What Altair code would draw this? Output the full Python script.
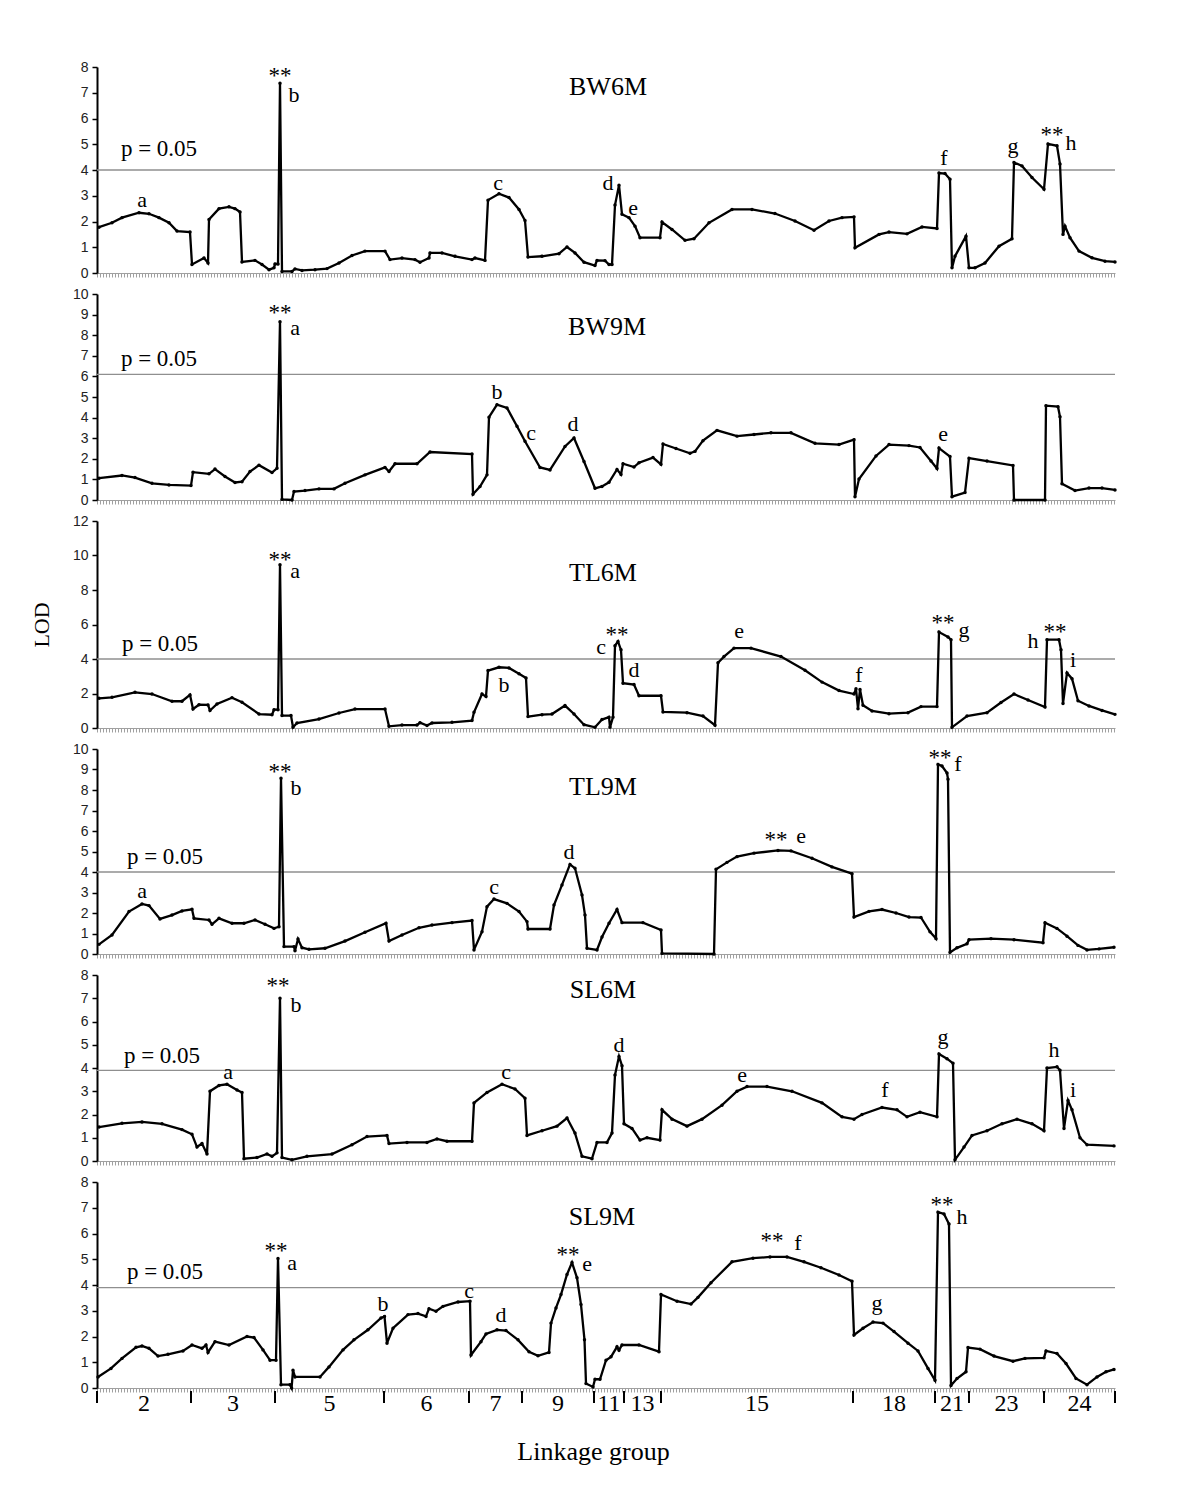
import altair as alt
import pandas as pd

# ---------------- data ----------------
GROUP_BOUNDS = [0, 94, 178, 287, 372, 425, 497, 527, 564, 756, 838, 872, 947, 1018]
GROUP_NAMES = ["2", "3", "5", "6", "7", "9", "11", "13", "15", "18", "21", "23", "24"]

BW6M_POS = [2, 15, 25, 42, 52, 62, 72, 80, 93, 95, 107, 111, 112, 122, 132, 138, 143, 145, 158, 165, 172, 177, 178, 181, 183, 185, 195, 198, 205, 218, 230, 242, 255, 268, 288, 293, 305, 318, 323, 332, 333, 345, 358, 375, 378, 388, 391, 402, 412, 422, 428, 431, 445, 462, 470, 478, 487, 498, 500, 508, 512, 515, 518, 522, 525, 532, 538, 543, 563, 565, 575, 588, 597, 612, 635, 655, 678, 698, 717, 732, 745, 757, 758, 782, 792, 810, 825, 840, 842, 848, 853, 855, 858, 869, 872, 878, 888, 902, 915, 917, 925, 935, 947, 951, 960, 963, 966, 968, 973, 982, 995, 1008, 1018]
BW6M_LOD = [1.78, 1.95, 2.15, 2.34, 2.3, 2.15, 1.95, 1.63, 1.59, 0.33, 0.58, 0.39, 2.08, 2.5, 2.57, 2.5, 2.37, 0.43, 0.49, 0.33, 0.13, 0.2, 0.35, 0.35, 7.37, 0.06, 0.06, 0.16, 0.1, 0.13, 0.17, 0.39, 0.68, 0.85, 0.85, 0.52, 0.58, 0.52, 0.42, 0.58, 0.78, 0.78, 0.65, 0.52, 0.58, 0.49, 2.83, 3.08, 2.93, 2.47, 2.04, 0.62, 0.65, 0.75, 1.01, 0.78, 0.42, 0.29, 0.49, 0.48, 0.33, 0.33, 2.64, 3.41, 2.28, 2.15, 1.82, 1.37, 1.37, 1.98, 1.69, 1.27, 1.33, 1.95, 2.47, 2.47, 2.31, 2.02, 1.66, 2.02, 2.15, 2.18, 0.98, 1.5, 1.59, 1.52, 1.79, 1.73, 3.88, 3.86, 3.64, 0.2, 0.65, 1.43, 0.2, 0.2, 0.39, 1.04, 1.33, 4.29, 4.16, 3.71, 3.25, 5.01, 4.94, 4.23, 1.5, 1.82, 1.37, 0.85, 0.59, 0.46, 0.43]

BW9M_POS = [2, 25, 38, 55, 72, 94, 96, 112, 118, 128, 138, 145, 153, 162, 175, 180, 183, 185, 195, 197, 208, 222, 237, 248, 268, 288, 292, 298, 320, 333, 375, 376, 383, 390, 392, 400, 410, 420, 428, 443, 453, 468, 477, 487, 498, 505, 512, 520, 524, 526, 537, 542, 556, 564, 566, 579, 593, 598, 606, 620, 640, 657, 674, 694, 718, 742, 757, 758, 762, 779, 792, 812, 823, 834, 840, 842, 853, 855, 868, 872, 890, 916, 917, 948, 949, 961, 963, 965, 978, 992, 1005, 1018]
BW9M_LOD = [1.06, 1.19, 1.09, 0.81, 0.73, 0.7, 1.35, 1.27, 1.5, 1.14, 0.85, 0.89, 1.38, 1.69, 1.33, 1.54, 8.65, 0.03, 0.0, 0.41, 0.46, 0.54, 0.54, 0.81, 1.22, 1.58, 1.38, 1.76, 1.76, 2.33, 2.23, 0.28, 0.65, 1.22, 4.02, 4.63, 4.47, 3.58, 2.85, 1.58, 1.46, 2.6, 3.01, 1.87, 0.57, 0.66, 0.86, 1.48, 1.24, 1.76, 1.6, 1.81, 2.06, 1.73, 2.72, 2.5, 2.27, 2.36, 2.88, 3.38, 3.1, 3.18, 3.26, 3.26, 2.75, 2.69, 2.93, 0.16, 1.02, 2.14, 2.69, 2.64, 2.55, 1.89, 1.53, 2.52, 2.11, 0.16, 0.36, 2.03, 1.89, 1.68, 0.0, 0.0, 4.58, 4.53, 4.04, 0.79, 0.46, 0.58, 0.58, 0.49]

TL6M_POS = [2, 15, 38, 55, 75, 85, 93, 96, 102, 111, 113, 120, 135, 145, 162, 175, 177, 181, 183, 185, 194, 196, 200, 222, 242, 258, 288, 292, 305, 320, 323, 330, 335, 355, 375, 377, 385, 389, 391, 402, 412, 422, 429, 431, 445, 455, 468, 477, 487, 498, 505, 512, 513, 516, 518, 521, 524, 526, 537, 542, 564, 566, 590, 606, 618, 621, 627, 637, 654, 684, 708, 725, 742, 757, 759, 761, 763, 766, 775, 792, 811, 824, 840, 842, 851, 854, 855, 870, 890, 904, 917, 931, 948, 950, 962, 964, 966, 970, 975, 981, 992, 1005, 1018]
TL6M_LOD = [1.72, 1.78, 2.07, 1.97, 1.55, 1.55, 1.92, 1.1, 1.35, 1.34, 1.01, 1.39, 1.76, 1.49, 0.81, 0.77, 1.06, 1.06, 9.46, 0.72, 0.72, 0.04, 0.29, 0.52, 0.87, 1.1, 1.1, 0.1, 0.17, 0.17, 0.31, 0.14, 0.29, 0.33, 0.43, 0.91, 1.97, 1.82, 3.33, 3.52, 3.48, 3.14, 2.9, 0.66, 0.77, 0.81, 1.3, 0.81, 0.19, 0.04, 0.49, 0.63, 0.04, 0.63, 4.77, 5.02, 4.53, 2.6, 2.52, 1.87, 1.87, 0.93, 0.89, 0.69, 0.16, 3.78, 4.14, 4.63, 4.63, 4.14, 3.35, 2.66, 2.17, 1.97, 2.27, 1.12, 2.23, 1.32, 0.99, 0.83, 0.89, 1.24, 1.24, 5.56, 5.28, 5.12, 0.04, 0.69, 0.89, 1.48, 1.97, 1.62, 1.22, 5.12, 5.12, 4.53, 1.42, 3.19, 2.86, 1.58, 1.28, 1.02, 0.79]

TL9M_POS = [2, 15, 32, 45, 52, 63, 75, 85, 95, 97, 112, 115, 122, 135, 147, 158, 168, 177, 182, 184, 187, 197, 198, 201, 205, 212, 228, 248, 268, 289, 292, 305, 322, 335, 355, 375, 377, 385, 390, 397, 410, 422, 430, 431, 453, 457, 465, 473, 478, 485, 488, 490, 500, 505, 512, 520, 525, 546, 564, 565, 617, 619, 630, 640, 657, 681, 694, 715, 735, 755, 757, 772, 785, 799, 812, 824, 833, 839, 841, 845, 850, 851, 853, 860, 870, 872, 894, 917, 946, 948, 960, 970, 981, 990, 1002, 1017]
TL9M_LOD = [0.47, 0.93, 2.07, 2.44, 2.36, 1.71, 1.9, 2.1, 2.18, 1.74, 1.66, 1.45, 1.74, 1.5, 1.5, 1.66, 1.45, 1.25, 1.33, 8.57, 0.36, 0.36, 0.16, 0.73, 0.31, 0.23, 0.28, 0.63, 1.06, 1.5, 0.63, 0.93, 1.28, 1.41, 1.53, 1.63, 0.2, 1.09, 2.31, 2.68, 2.47, 2.07, 1.58, 1.22, 1.22, 2.39, 3.37, 4.37, 4.18, 2.88, 1.9, 0.28, 0.2, 0.83, 1.5, 2.17, 1.53, 1.53, 1.17, 0.03, 0.0, 4.13, 4.47, 4.75, 4.92, 5.05, 5.03, 4.67, 4.25, 3.92, 1.8, 2.08, 2.17, 2.0, 1.8, 1.78, 1.08, 0.75, 9.25, 9.17, 8.83, 8.53, 0.08, 0.3, 0.5, 0.7, 0.75, 0.7, 0.55, 1.53, 1.25, 0.87, 0.42, 0.2, 0.25, 0.33]

SL6M_POS = [2, 25, 45, 65, 85, 95, 100, 105, 110, 113, 122, 130, 140, 145, 147, 160, 170, 175, 180, 183, 185, 195, 210, 235, 255, 270, 290, 292, 310, 330, 340, 350, 375, 377, 390, 405, 418, 428, 430, 445, 460, 470, 478, 485, 495, 500, 510, 515, 518, 522, 525, 527, 535, 543, 550, 563, 565, 575, 590, 605, 625, 640, 650, 670, 695, 725, 745, 757, 765, 785, 800, 810, 823, 840, 842, 850, 856, 858, 867, 875, 890, 905, 920, 935, 947, 950, 960, 963, 967, 971, 975, 983, 990, 1017]
SL6M_LOD = [1.46, 1.62, 1.68, 1.6, 1.35, 1.15, 0.6, 0.75, 0.3, 3.0, 3.25, 3.3, 3.05, 2.95, 0.1, 0.15, 0.3, 0.2, 0.35, 7.0, 0.15, 0.05, 0.2, 0.3, 0.7, 1.05, 1.1, 0.75, 0.8, 0.8, 0.95, 0.85, 0.85, 2.5, 2.95, 3.3, 3.1, 2.7, 1.1, 1.3, 1.5, 1.85, 1.2, 0.2, 0.1, 0.8, 0.8, 1.2, 3.7, 4.5, 4.1, 1.6, 1.4, 0.9, 1.0, 0.9, 2.2, 1.8, 1.5, 1.8, 2.4, 3.0, 3.2, 3.2, 3.0, 2.5, 1.9, 1.8, 2.0, 2.3, 2.2, 1.9, 2.1, 1.9, 4.6, 4.4, 4.2, 0.05, 0.6, 1.1, 1.3, 1.6, 1.8, 1.6, 1.3, 4.0, 4.05, 3.9, 1.4, 2.6, 2.2, 1.0, 0.7, 0.65]

SL9M_POS = [1, 14, 25, 39, 45, 52, 61, 71, 86, 95, 105, 109, 111, 118, 132, 150, 157, 166, 173, 179, 181, 184, 193, 194.6, 196, 198, 223, 232, 246, 257, 271, 284, 287.5, 290, 296, 311, 321, 329, 332, 339, 346, 361, 373, 374, 384, 389, 400, 409, 421, 432, 441, 452, 454, 459, 464, 470, 475, 480, 484, 487.5, 489, 496, 498, 503, 509, 514, 520, 522, 525, 542, 562, 564, 580, 594, 601, 614, 635, 656, 673, 690, 707, 724, 742, 755, 757, 766, 776, 786, 797, 811, 821, 831, 838, 841, 847, 852, 854, 860, 869, 871, 883, 897, 916, 928, 947, 949, 960, 969, 979, 990, 1000, 1009, 1017]
SL9M_LOD = [0.43, 0.76, 1.15, 1.58, 1.63, 1.54, 1.24, 1.31, 1.44, 1.67, 1.54, 1.67, 1.38, 1.8, 1.67, 2.0, 1.96, 1.48, 1.08, 1.08, 5.03, 0.13, 0.13, 0.0, 0.69, 0.43, 0.43, 0.82, 1.48, 1.87, 2.26, 2.72, 2.78, 1.74, 2.32, 2.85, 2.89, 2.78, 3.08, 2.98, 3.17, 3.34, 3.37, 1.28, 1.8, 2.1, 2.26, 2.23, 1.87, 1.41, 1.25, 1.38, 2.52, 3.11, 3.63, 4.41, 4.87, 4.28, 3.24, 1.87, 0.17, 0.04, 0.34, 0.34, 1.08, 1.21, 1.6, 1.47, 1.67, 1.67, 1.41, 3.63, 3.37, 3.26, 3.52, 4.09, 4.9, 5.04, 5.09, 5.09, 4.9, 4.67, 4.39, 4.15, 2.06, 2.32, 2.56, 2.52, 2.19, 1.74, 1.44, 0.76, 0.3, 6.83, 6.76, 6.37, 0.1, 0.37, 0.63, 1.57, 1.51, 1.24, 1.04, 1.15, 1.17, 1.44, 1.34, 0.95, 0.37, 0.13, 0.43, 0.63, 0.72]

# annotation letters (text, position, LOD) and significance stars (position, LOD)
BW6M_LETTERS = [("a", 45, 2.85), ("b", 197, 6.9), ("c", 401, 3.5), ("d", 511, 3.5), ("e", 536, 2.52), ("f", 847, 4.47), ("g", 916, 4.93), ("h", 974, 5.05)]
BW6M_STARS = [(183, 7.8), (955, 5.53)]
BW9M_LETTERS = [("a", 198, 8.37), ("b", 400, 5.24), ("c", 434, 3.25), ("d", 476, 3.7), ("e", 846, 3.2)]
BW9M_STARS = [(183, 9.27)]
TL6M_LETTERS = [("a", 198, 9.13), ("b", 407, 2.47), ("c", 504, 4.68), ("d", 537, 3.35), ("e", 642, 5.62), ("f", 762, 3.05), ("g", 867, 5.71), ("h", 936, 5.02), ("i", 976, 3.94)]
TL6M_STARS = [(183, 10.0), (520, 5.62), (846, 6.3), (958, 5.81)]
TL9M_LETTERS = [("a", 45, 3.07), ("b", 199, 8.08), ("c", 397, 3.28), ("d", 472, 4.99), ("e", 704, 5.75), ("f", 861, 9.25)]
TL9M_STARS = [(183, 9.06), (679, 5.75), (843, 9.75)]
SL6M_LETTERS = [("a", 131, 3.83), ("b", 199, 6.7), ("c", 409, 3.83), ("d", 522, 4.99), ("e", 645, 3.7), ("f", 788, 3.05), ("g", 846, 5.33), ("h", 957, 4.77), ("i", 976, 3.05)]
SL6M_STARS = [(181, 7.7)]
SL9M_LETTERS = [("a", 195, 4.87), ("b", 286, 3.26), ("c", 372, 3.76), ("d", 404, 2.85), ("e", 490, 4.8), ("f", 701, 5.65), ("g", 780, 3.3), ("h", 865, 6.63)]
SL9M_STARS = [(179, 5.46), (471, 5.33), (675, 5.85), (845, 7.28)]

PANELS = [
    dict(name="BW6M", pos=BW6M_POS, lod=BW6M_LOD, ymax=8, step=1, thr=4.0, h=206,
         title=(511, 7.24), p=(62, 4.81), letters=BW6M_LETTERS, stars=BW6M_STARS),
    dict(name="BW9M", pos=BW9M_POS, lod=BW9M_LOD, ymax=10, step=1, thr=6.1, h=206,
         title=(510, 8.4), p=(62, 6.83), letters=BW9M_LETTERS, stars=BW9M_STARS),
    dict(name="TL6M", pos=TL6M_POS, lod=TL6M_LOD, ymax=12, step=2, thr=4.0, h=207,
         title=(506, 9.0), p=(63, 4.88), letters=TL6M_LETTERS, stars=TL6M_STARS),
    dict(name="TL9M", pos=TL9M_POS, lod=TL9M_LOD, ymax=10, step=1, thr=4.0, h=205,
         title=(506, 8.17), p=(68, 4.75), letters=TL9M_LETTERS, stars=TL9M_STARS),
    dict(name="SL6M", pos=SL6M_POS, lod=SL6M_LOD, ymax=8, step=1, thr=3.9, h=186,
         title=(506, 7.35), p=(65, 4.52), letters=SL6M_LETTERS, stars=SL6M_STARS),
    dict(name="SL9M", pos=SL9M_POS, lod=SL9M_LOD, ymax=8, step=1, thr=3.9, h=206,
         title=(505, 6.63), p=(68, 4.52), letters=SL9M_LETTERS, stars=SL9M_STARS),
]

SERIF = "Liberation Serif"
SANS = "Liberation Sans"
XMAX = 1018
W = 1018


def make_panel(i, P):
    last = i == len(PANELS) - 1
    xscale = alt.Scale(domain=[0, XMAX], nice=False, zero=False)
    yscale = alt.Scale(domain=[0, P["ymax"]], nice=False)
    xaxis_kw = dict(values=list(range(0, XMAX + 1, 3)), labels=False, ticks=True, tickSize=4,
                    tickColor="#a0a0a0", tickWidth=1, domainColor="#a0a0a0", domainWidth=1,
                    grid=False)
    if last:
        xaxis = alt.Axis(title="Linkage group", titleFont=SERIF, titleFontSize=26,
                         titleFontWeight="normal", titleColor="black", titlePadding=46,
                         titleX=496, titleAnchor="middle", **xaxis_kw)
    else:
        xaxis = alt.Axis(title="", **xaxis_kw)
    yvals = list(range(0, P["ymax"] + 1, P["step"]))
    yaxis_kw = dict(values=yvals, grid=False, domainColor="black", domainWidth=2,
                    tickColor="black", tickWidth=1.5, tickSize=5, labelFont=SANS,
                    labelFontSize=14, labelColor="#222222", labelPadding=4)
    if P["name"] == "TL6M":
        yaxis = alt.Axis(title="LOD", titleFont=SERIF, titleFontSize=22, titleFontWeight="normal",
                         titleColor="black", titlePadding=19, **yaxis_kw)
    else:
        yaxis = alt.Axis(title="", **yaxis_kw)

    X = alt.X("pos:Q", scale=xscale, axis=xaxis)
    Y = alt.Y("lod:Q", scale=yscale, axis=yaxis)

    curve = pd.DataFrame({"pos": P["pos"], "lod": P["lod"]})
    thr = pd.DataFrame({"lod": [P["thr"]]})
    letters = pd.DataFrame(P["letters"], columns=["txt", "pos", "lod"])
    stars = pd.DataFrame({"pos": [s[0] for s in P["stars"]], "lod": [s[1] for s in P["stars"]],
                          "txt": ["**"] * len(P["stars"])})
    title = pd.DataFrame({"pos": [P["title"][0]], "lod": [P["title"][1]], "txt": [P["name"]]})
    ptxt = pd.DataFrame({"pos": [P["p"][0]], "lod": [P["p"][1]], "txt": ["p = 0.05"]})

    layers = [
        alt.Chart(thr).mark_rule(color="#8f8f8f", strokeWidth=1.3).encode(y=Y),
        alt.Chart(curve).mark_line(color="black", strokeWidth=2.3).encode(x=X, y=Y),
        alt.Chart(curve).mark_point(filled=True, color="black", size=12, opacity=1).encode(x=X, y=Y),
        alt.Chart(letters).mark_text(font=SERIF, fontSize=22, color="black", baseline="middle",
                                     align="center").encode(x=X, y=Y, text="txt:N"),
        alt.Chart(stars).mark_text(font=SERIF, fontSize=23, color="black", baseline="middle",
                                   align="center", dy=4).encode(x=X, y=Y, text="txt:N"),
        alt.Chart(title).mark_text(font=SERIF, fontSize=26, color="black", baseline="middle",
                                   align="center").encode(x=X, y=Y, text="txt:N"),
        alt.Chart(ptxt).mark_text(font=SERIF, fontSize=23, color="black", baseline="middle",
                                  align="center").encode(x=X, y=Y, text="txt:N"),
    ]
    if last:
        bounds = pd.DataFrame({"pos": GROUP_BOUNDS})
        centers = [(GROUP_BOUNDS[k] + GROUP_BOUNDS[k + 1]) / 2 for k in range(len(GROUP_NAMES))]
        glabels = pd.DataFrame({"pos": centers, "txt": GROUP_NAMES})
        layers.append(
            alt.Chart(bounds).mark_rule(color="black", strokeWidth=2).encode(
                x=X, y=alt.value(P["h"] + 3), y2=alt.value(P["h"] + 15))
        )
        layers.append(
            alt.Chart(glabels).mark_text(font=SERIF, fontSize=24, color="black", baseline="top",
                                         align="center").encode(x=X, y=alt.value(P["h"] + 4),
                                                                text="txt:N")
        )
    return alt.layer(*layers).properties(width=W, height=P["h"])


charts = [make_panel(i, P) for i, P in enumerate(PANELS)]

chart = alt.vconcat(*charts, spacing=21, bounds="flush").properties(
    padding={"left": 22, "top": 52, "right": 20, "bottom": 30},
    background="white",
).configure_view(stroke=None)

chart.save("out.html", embed_options={"renderer": "svg", "actions": False})
